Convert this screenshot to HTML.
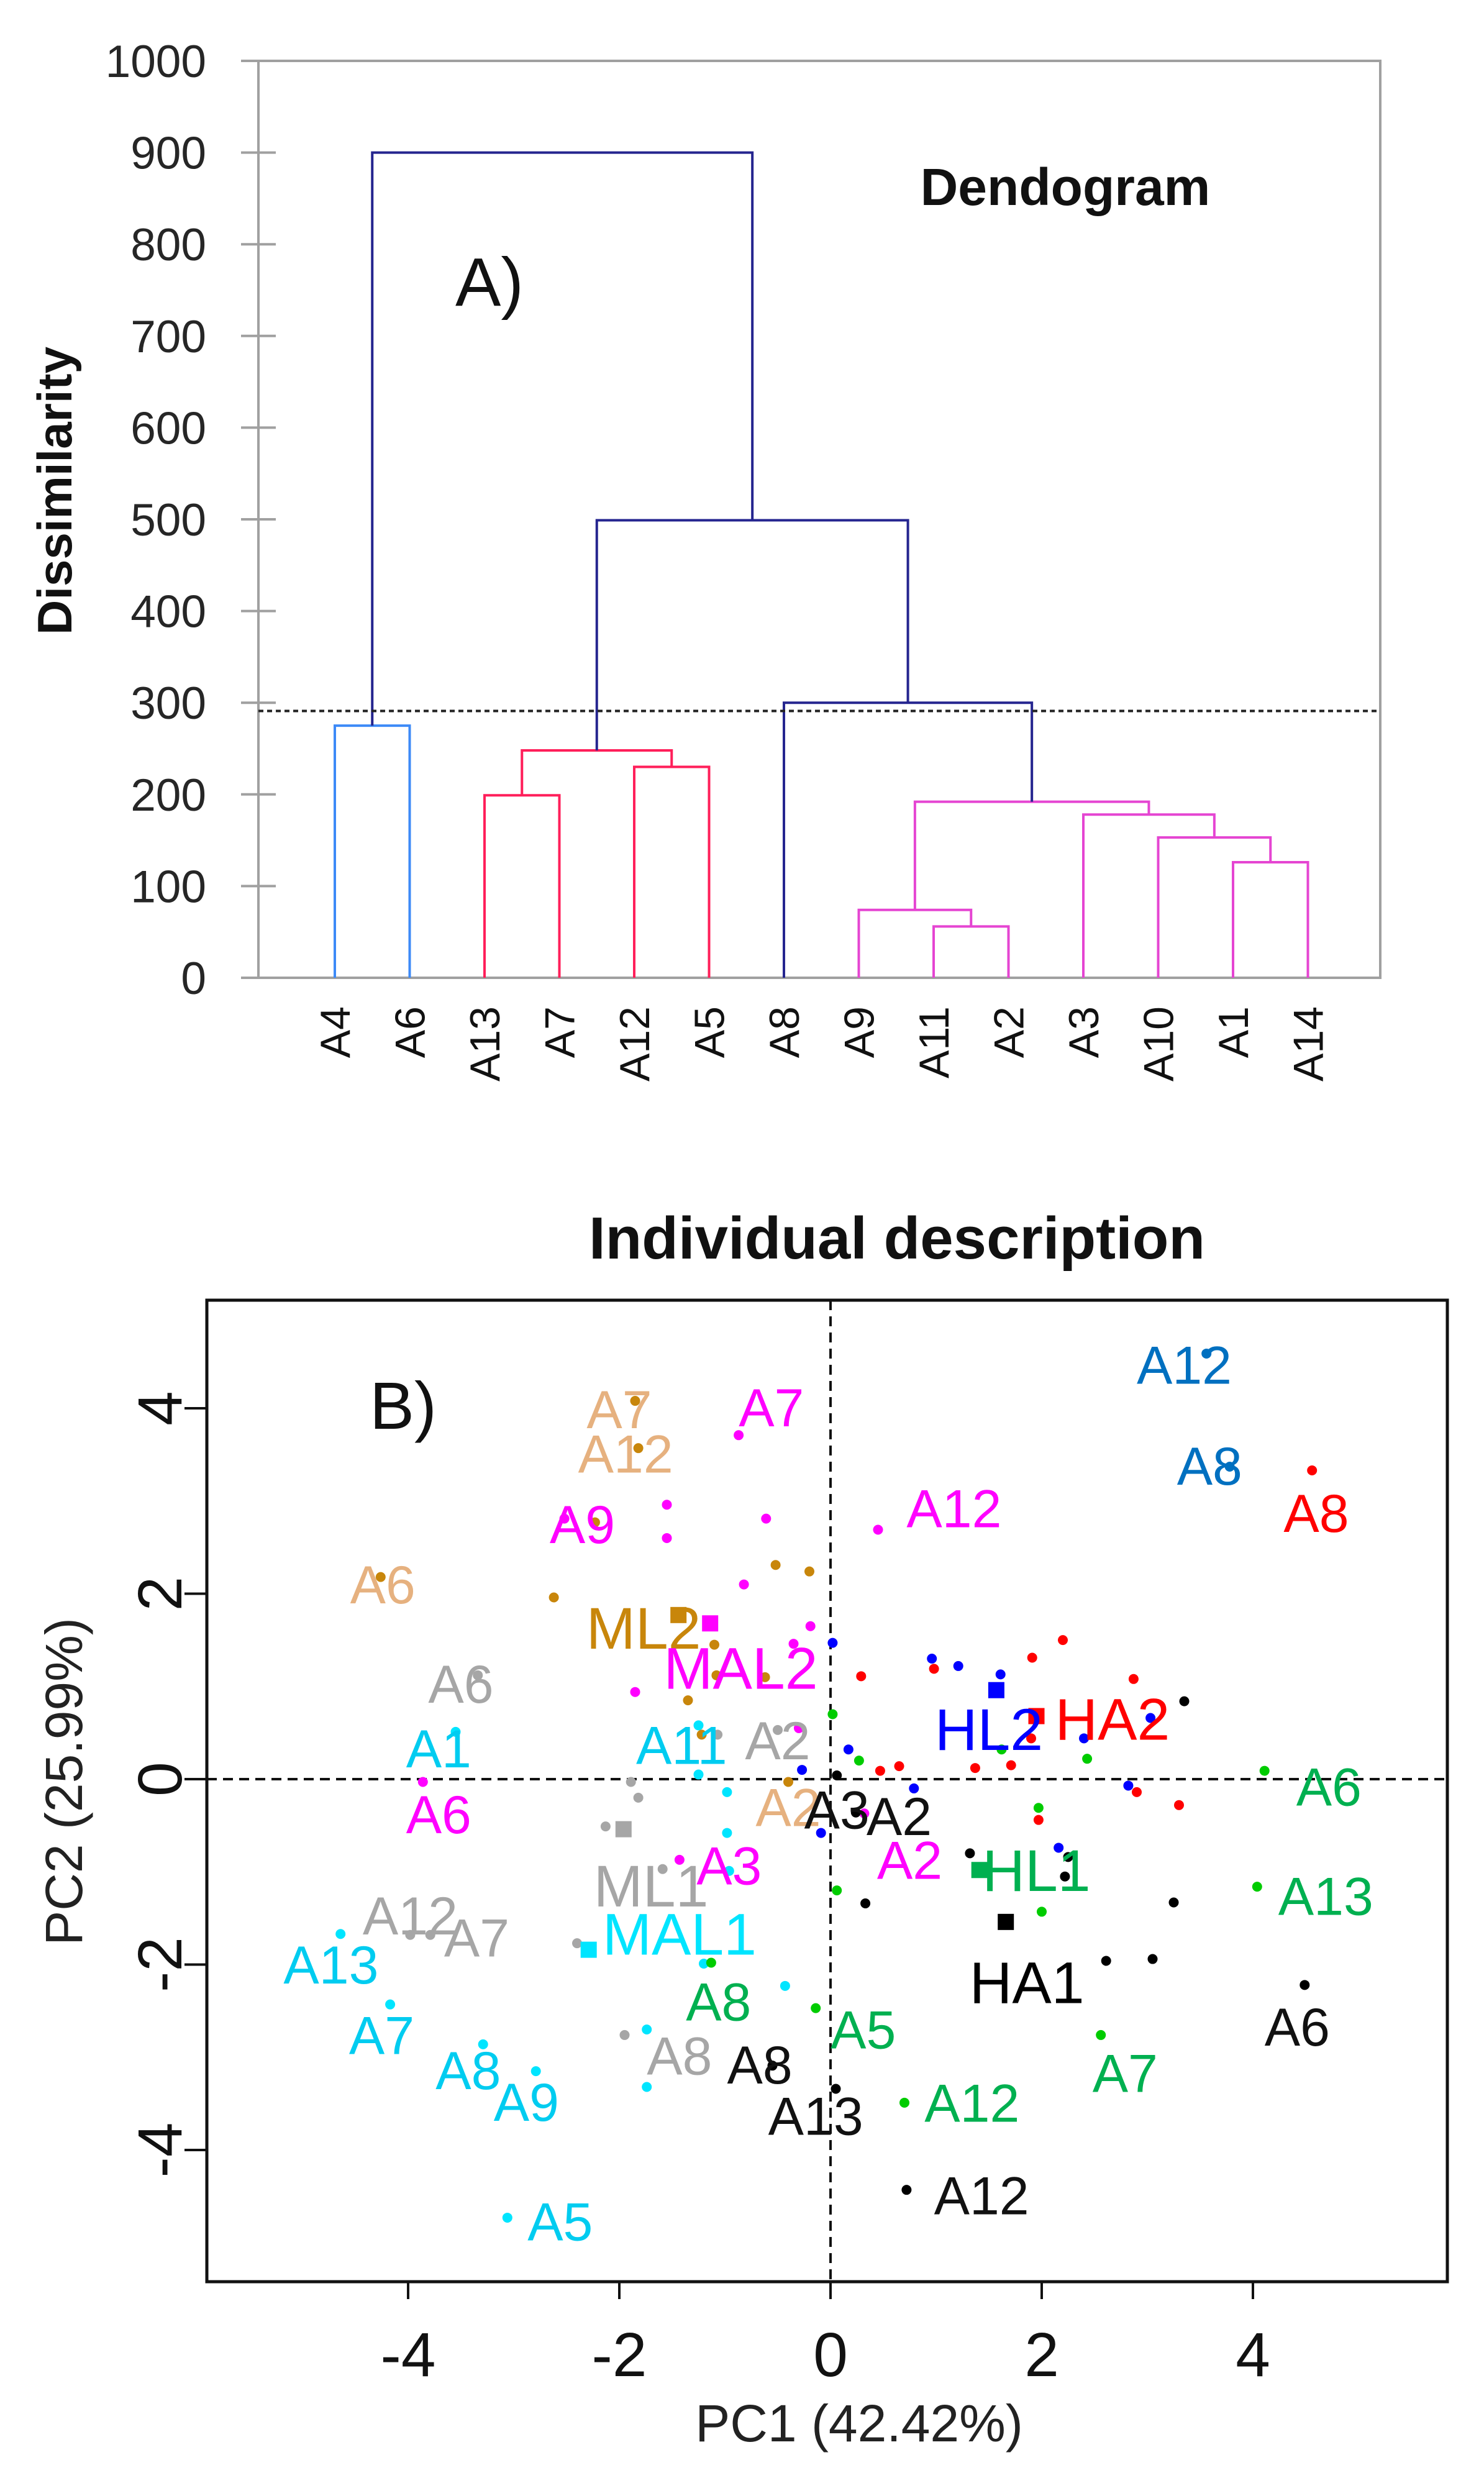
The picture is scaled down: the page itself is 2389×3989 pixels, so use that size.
<!DOCTYPE html>
<html><head><meta charset="utf-8"><style>
html,body{margin:0;padding:0;background:#fff;}
svg{display:block;font-family:"Liberation Sans",sans-serif;}
</style></head><body>
<svg id="fig" width="2389" height="3989" viewBox="0 0 2389 3989" xmlns="http://www.w3.org/2000/svg">
<g id="dendro"></g>
<g id="pca"></g>
</svg>
<script>
// ---------- Dendrogram data ----------
const leaves = ["A4","A6","A13","A7","A12","A5","A8","A9","A11","A2","A3","A10","A1","A14"];
const yTicks = [0,100,200,300,400,500,600,700,800,900,1000];
const mergeA = ["A4","A13","A12","n1","A11","A9","A1","A10","A3","n5","A8","n3","n0"];
const mergeB = ["A6","A7","A5","n2","A2","n4","A14","n6","n7","n8","n9","n10","n11"];
const mergeH = [275,199,230,248,56,74,126,153,178,192,300,499,900];
const mergeC = ["#3d8af7","#ff1f5a","#ff1f5a","#ff1f5a","#e545d2","#e545d2","#e545d2","#e545d2","#e545d2","#e545d2","#25258f","#25258f","#25258f"];
const cutLevel = 291;

// ---------- PCA data ----------
const pcaXTicks = [-4,-2,0,2,4];
const pcaYTicks = [-4,-2,0,2,4];
const goldPts = [[-1.85,4.08],[-1.82,3.57],[-2.23,2.77],[-2.62,1.96],[-0.52,2.31],[-0.2,2.24],[-1.08,1.12],[-1.35,0.85],[-0.4,-0.03],[-4.26,2.18],[-1.22,0.48],[-1.1,1.45],[-0.62,1.1]];
const goldLbl = ["A7","A12","A6","A2"];
const goldLblPos = [[-2.0,3.98],[-1.94,3.5],[-4.24,2.09],[-0.4,-0.31]];
const goldCent = [[-1.44,1.77]];
const magPts = [[-0.87,3.71],[-2.52,2.81],[0.45,2.69],[-1.55,2.96],[-1.55,2.6],[-0.61,2.81],[-0.19,1.65],[-0.35,1.46],[-1.85,0.94],[-3.86,-0.03],[-1.43,-0.87],[0.32,-0.37],[-0.82,2.1],[-0.3,0.55]];
const magLbl = ["A7","A9","A12","A6","A3","A2"];
const magLblPos = [[-0.56,4.0],[-2.35,2.74],[1.17,2.91],[-3.71,-0.39],[-0.96,-0.94],[0.75,-0.88]];
const magCent = [[-1.14,1.68]];
const grayPts = [[-3.34,1.12],[-1.89,-0.03],[-1.82,-0.2],[-2.13,-0.51],[-3.79,-1.68],[-3.98,-1.68],[-2.4,-1.77],[-1.95,-2.76],[-0.5,0.53],[-1.07,0.48],[-1.59,-0.97]];
const grayLbl = ["A6","A2","A12","A7","A8"];
const grayLblPos = [[-3.5,1.02],[-0.5,0.41],[-3.98,-1.48],[-3.35,-1.72],[-1.43,-2.99]];
const grayCent = [[-1.96,-0.54]];
const cyanPts = [[-3.55,0.51],[-1.25,0.58],[-0.98,-0.14],[-0.98,-0.58],[-4.64,-1.67],[-4.17,-2.43],[-3.29,-2.86],[-2.79,-3.15],[-3.06,-4.73],[-1.74,-2.7],[-1.74,-3.32],[-1.2,-1.99],[-0.43,-2.23],[-0.96,-0.99],[-1.25,0.05]];
const cyanLbl = ["A1","A11","A13","A7","A8","A9","A5"];
const cyanLblPos = [[-3.71,0.32],[-1.41,0.36],[-4.73,-2.01],[-4.25,-2.77],[-3.43,-3.15],[-2.88,-3.49],[-2.56,-4.78]];
const cyanCent = [[-2.29,-1.84]];
const steelPts = [[3.56,4.59],[3.78,3.37]];
const steelLbl = ["A12","A8"];
const steelLblPos = [[3.35,4.46],[3.59,3.37]];
const redPts = [[0.29,1.11],[0.98,1.19],[1.91,1.31],[2.2,1.5],[2.87,1.08],[0.65,0.14],[0.47,0.09],[1.37,0.12],[1.71,0.15],[1.97,-0.44],[2.9,-0.14],[3.3,-0.28],[4.56,3.33],[1.9,0.44]];
const redLbl = ["A8"];
const redLblPos = [[4.6,2.86]];
const redCent = [[1.95,0.68]];
const bluePts = [[0.02,1.47],[0.96,1.3],[1.21,1.22],[1.61,1.13],[3.03,0.66],[0.17,0.32],[-0.27,0.1],[0.79,-0.1],[2.4,0.44],[2.82,-0.07],[2.16,-0.74],[-0.09,-0.58]];
const blueCent = [[1.57,0.96]];
const greenPts = [[0.02,0.7],[0.27,0.2],[1.62,0.32],[2.43,0.22],[1.97,-0.31],[4.11,0.09],[4.04,-1.16],[2.0,-1.43],[0.06,-1.2],[-1.13,-1.98],[-0.14,-2.47],[2.56,-2.76],[0.7,-3.49]];
const greenLbl = ["A6","A13","A8","A5","A7","A12"];
const greenLblPos = [[4.72,-0.09],[4.69,-1.27],[-1.06,-2.41],[0.31,-2.71],[2.79,-3.18],[1.34,-3.5]];
const greenCent = [[1.41,-0.98]];
const blackPts = [[0.06,0.04],[0.24,-0.36],[3.35,0.84],[1.32,-0.8],[2.25,-0.84],[2.22,-1.05],[0.33,-1.34],[3.25,-1.33],[2.61,-1.96],[3.05,-1.94],[4.49,-2.22],[-0.55,-3.09],[0.05,-3.34],[0.72,-4.43]];
const blackLbl = ["A3","A2","A6","A8","A13","A12"];
const blackLblPos = [[0.06,-0.34],[0.65,-0.41],[4.42,-2.68],[-0.67,-3.09],[-0.14,-3.64],[1.43,-4.5]];
const blackCent = [[1.66,-1.54]];
const centNames = ["ML2","MAL2","ML1","MAL1","HA2","HL2","HL1","HA1"];
const centLblPos = [[-1.77,1.62],[-0.85,1.19],[-1.7,-1.16],[-1.43,-1.68],[2.67,0.64],[1.5,0.53],[1.95,-0.99],[1.86,-2.2]];
const centColors = ["#c8860b","#ff00ff","#a6a6a6","#00e5ff","#ff0000","#0000ff","#00b050","#000000"];

const NS = "http://www.w3.org/2000/svg";
function mk(parent, tag, attrs, txt){
  const e = document.createElementNS(NS, tag);
  for (const k in attrs) e.setAttribute(k, attrs[k]);
  if (txt !== undefined) e.textContent = txt;
  parent.appendChild(e);
  return e;
}

// ---------- Dendrogram drawing ----------
const D = document.getElementById('dendro');
const dL = 416, dR = 2222, dT = 98, dB = 1574;
const leafX0 = 539, leafDX = 120.5;
function dy(v){ return dB - (v/1000)*(dB-dT); }
function lx(i){ return leafX0 + i*leafDX; }

let ax = mk(D,'rect',{x:dL,y:dT,width:dR-dL,height:dB-dT,fill:'none',stroke:'#a0a0a0','stroke-width':4});


yTicks.forEach(t=>{
  const l = mk(D,'line',{x1:dL-28,x2:dL+(t===0||t===1000?0:28),y1:dy(t),y2:dy(t),stroke:'#a0a0a0','stroke-width':4});
  
  
  const tx = mk(D,'text',{x:dL-84,y:dy(t)+26,'text-anchor':'end','font-size':73,fill:'#262626'},String(t));
  
  
});
const pos = {}, hgt = {};
leaves.forEach((n,i)=>{
  pos[n]=lx(i); hgt[n]=0;
  const t = mk(D,'text',{x:0,y:0,transform:`translate(${lx(i)+24},1620) rotate(-90)`,'text-anchor':'end','font-size':68,fill:'#111'},n);
  
  
});
mergeH.forEach((h,k)=>{
  const a = mergeA[k], b = mergeB[k], c = mergeC[k];
  const xa = pos[a], xb = pos[b];
  const p = mk(D,'path',{d:`M${xa},${dy(hgt[a])}V${dy(h)}H${xb}V${dy(hgt[b])}`,fill:'none',stroke:c,'stroke-width':4});
  
  
  pos['n'+k]=(xa+xb)/2; hgt['n'+k]=h;
});
const cut = mk(D,'line',{x1:dL,x2:dR,y1:dy(cutLevel),y2:dy(cutLevel),stroke:'#222','stroke-width':4,'stroke-dasharray':'8 6'});


let t1 = mk(D,'text',{x:0,y:0,transform:'translate(115,790) rotate(-90)','text-anchor':'middle','font-size':78,'font-weight':'bold',fill:'#111'},'Dissimilarity');


let t2 = mk(D,'text',{x:1715,y:330,'text-anchor':'middle','font-size':84,'font-weight':'bold',fill:'#111'},'Dendogram');


let t3 = mk(D,'text',{x:788,y:492,'text-anchor':'middle','font-size':110,fill:'#111'},'A)');



// ---------- PCA drawing ----------
const P = document.getElementById('pca');
const pL = 333, pR = 2330, pT = 2093, pB = 3673;
const x0 = 1337, sx = 170, y0 = 2864, sy = 149.25;
function px(v){ return x0 + v*sx; }
function py(v){ return y0 - v*sy; }

let tt = mk(P,'text',{x:1444,y:2026,'text-anchor':'middle','font-size':96,'font-weight':'bold',fill:'#111'},'Individual description');


let fr = mk(P,'rect',{x:pL,y:pT,width:pR-pL,height:pB-pT,fill:'none',stroke:'#111','stroke-width':5});


pcaXTicks.forEach(t=>{
  const l = mk(P,'line',{x1:px(t),x2:px(t),y1:pB,y2:pB+28,stroke:'#111','stroke-width':4});
  
  
  const tx = mk(P,'text',{x:px(t),y:3825,'text-anchor':'middle','font-size':100,fill:'#111'},String(t));
  
  
});
pcaYTicks.forEach(t=>{
  const l = mk(P,'line',{x1:pL-36,x2:pL,y1:py(t),y2:py(t),stroke:'#111','stroke-width':4});
  
  
  const tx = mk(P,'text',{x:0,y:0,transform:`translate(292,${py(t)}) rotate(-90)`,'text-anchor':'middle','font-size':100,fill:'#111'},String(t));
  
  
});
let vz = mk(P,'line',{x1:px(0),x2:px(0),y1:pT,y2:pB,stroke:'#111','stroke-width':4,'stroke-dasharray':'16 10'});


let hz = mk(P,'line',{x1:pL,x2:pR,y1:py(0),y2:py(0),stroke:'#111','stroke-width':4,'stroke-dasharray':'16 10'});



function dots(pts, col, name){
  pts.forEach(p=>{
    const c = mk(P,'circle',{cx:px(p[0]),cy:py(p[1]),r:8,fill:col});
    
    
  });
}
function labels(lbls, lpos, col, name){
  lbls.forEach((s,i)=>{
    const t = mk(P,'text',{x:px(lpos[i][0]),y:py(lpos[i][1]),'text-anchor':'middle','dominant-baseline':'central','font-size':86,fill:col},s);
    
    
  });
}
dots(goldPts,'#c8860b','point-ml2');
dots(magPts,'#ff00ff','point-mal2');
dots(grayPts,'#a6a6a6','point-ml1');
dots(cyanPts,'#00e5ff','point-mal1');
dots(steelPts,'#0070c0','point-steel');
dots(redPts,'#ff0000','point-ha2');
dots(bluePts,'#0000ff','point-hl2');
dots(greenPts,'#00cc00','point-hl1');
dots(blackPts,'#000000','point-ha1');
labels(goldLbl,goldLblPos,'#e6b17f','label-ml2');
labels(magLbl,magLblPos,'#ff00ff','label-mal2');
labels(grayLbl,grayLblPos,'#a6a6a6','label-ml1');
labels(cyanLbl,cyanLblPos,'#00ccf0','label-mal1');
labels(steelLbl,steelLblPos,'#0070c0','label-steel');
labels(redLbl,redLblPos,'#ff0000','label-ha2');
labels(greenLbl,greenLblPos,'#00b050','label-hl1');
labels(blackLbl,blackLblPos,'#111111','label-ha1');
const cents = [goldCent[0],magCent[0],grayCent[0],cyanCent[0],redCent[0],blueCent[0],greenCent[0],blackCent[0]];
cents.forEach((c,i)=>{
  const r = mk(P,'rect',{x:px(c[0])-13,y:py(c[1])-13,width:26,height:26,fill:centColors[i]});
  
  
  const t = mk(P,'text',{x:px(centLblPos[i][0]),y:py(centLblPos[i][1]),'text-anchor':'middle','dominant-baseline':'central','font-size':95,fill:centColors[i]},centNames[i]);
  
  
});
let bl = mk(P,'text',{x:595,y:2300,'font-size':108,fill:'#111'},'B)');


let xt = mk(P,'text',{x:1383,y:3930,'text-anchor':'middle','font-size':84,fill:'#222'},'PC1 (42.42%)');


let yt = mk(P,'text',{x:0,y:0,transform:'translate(132,2868) rotate(-90)','text-anchor':'middle','font-size':84,fill:'#222'},'PC2 (25.99%)');


</script>
</body></html>
